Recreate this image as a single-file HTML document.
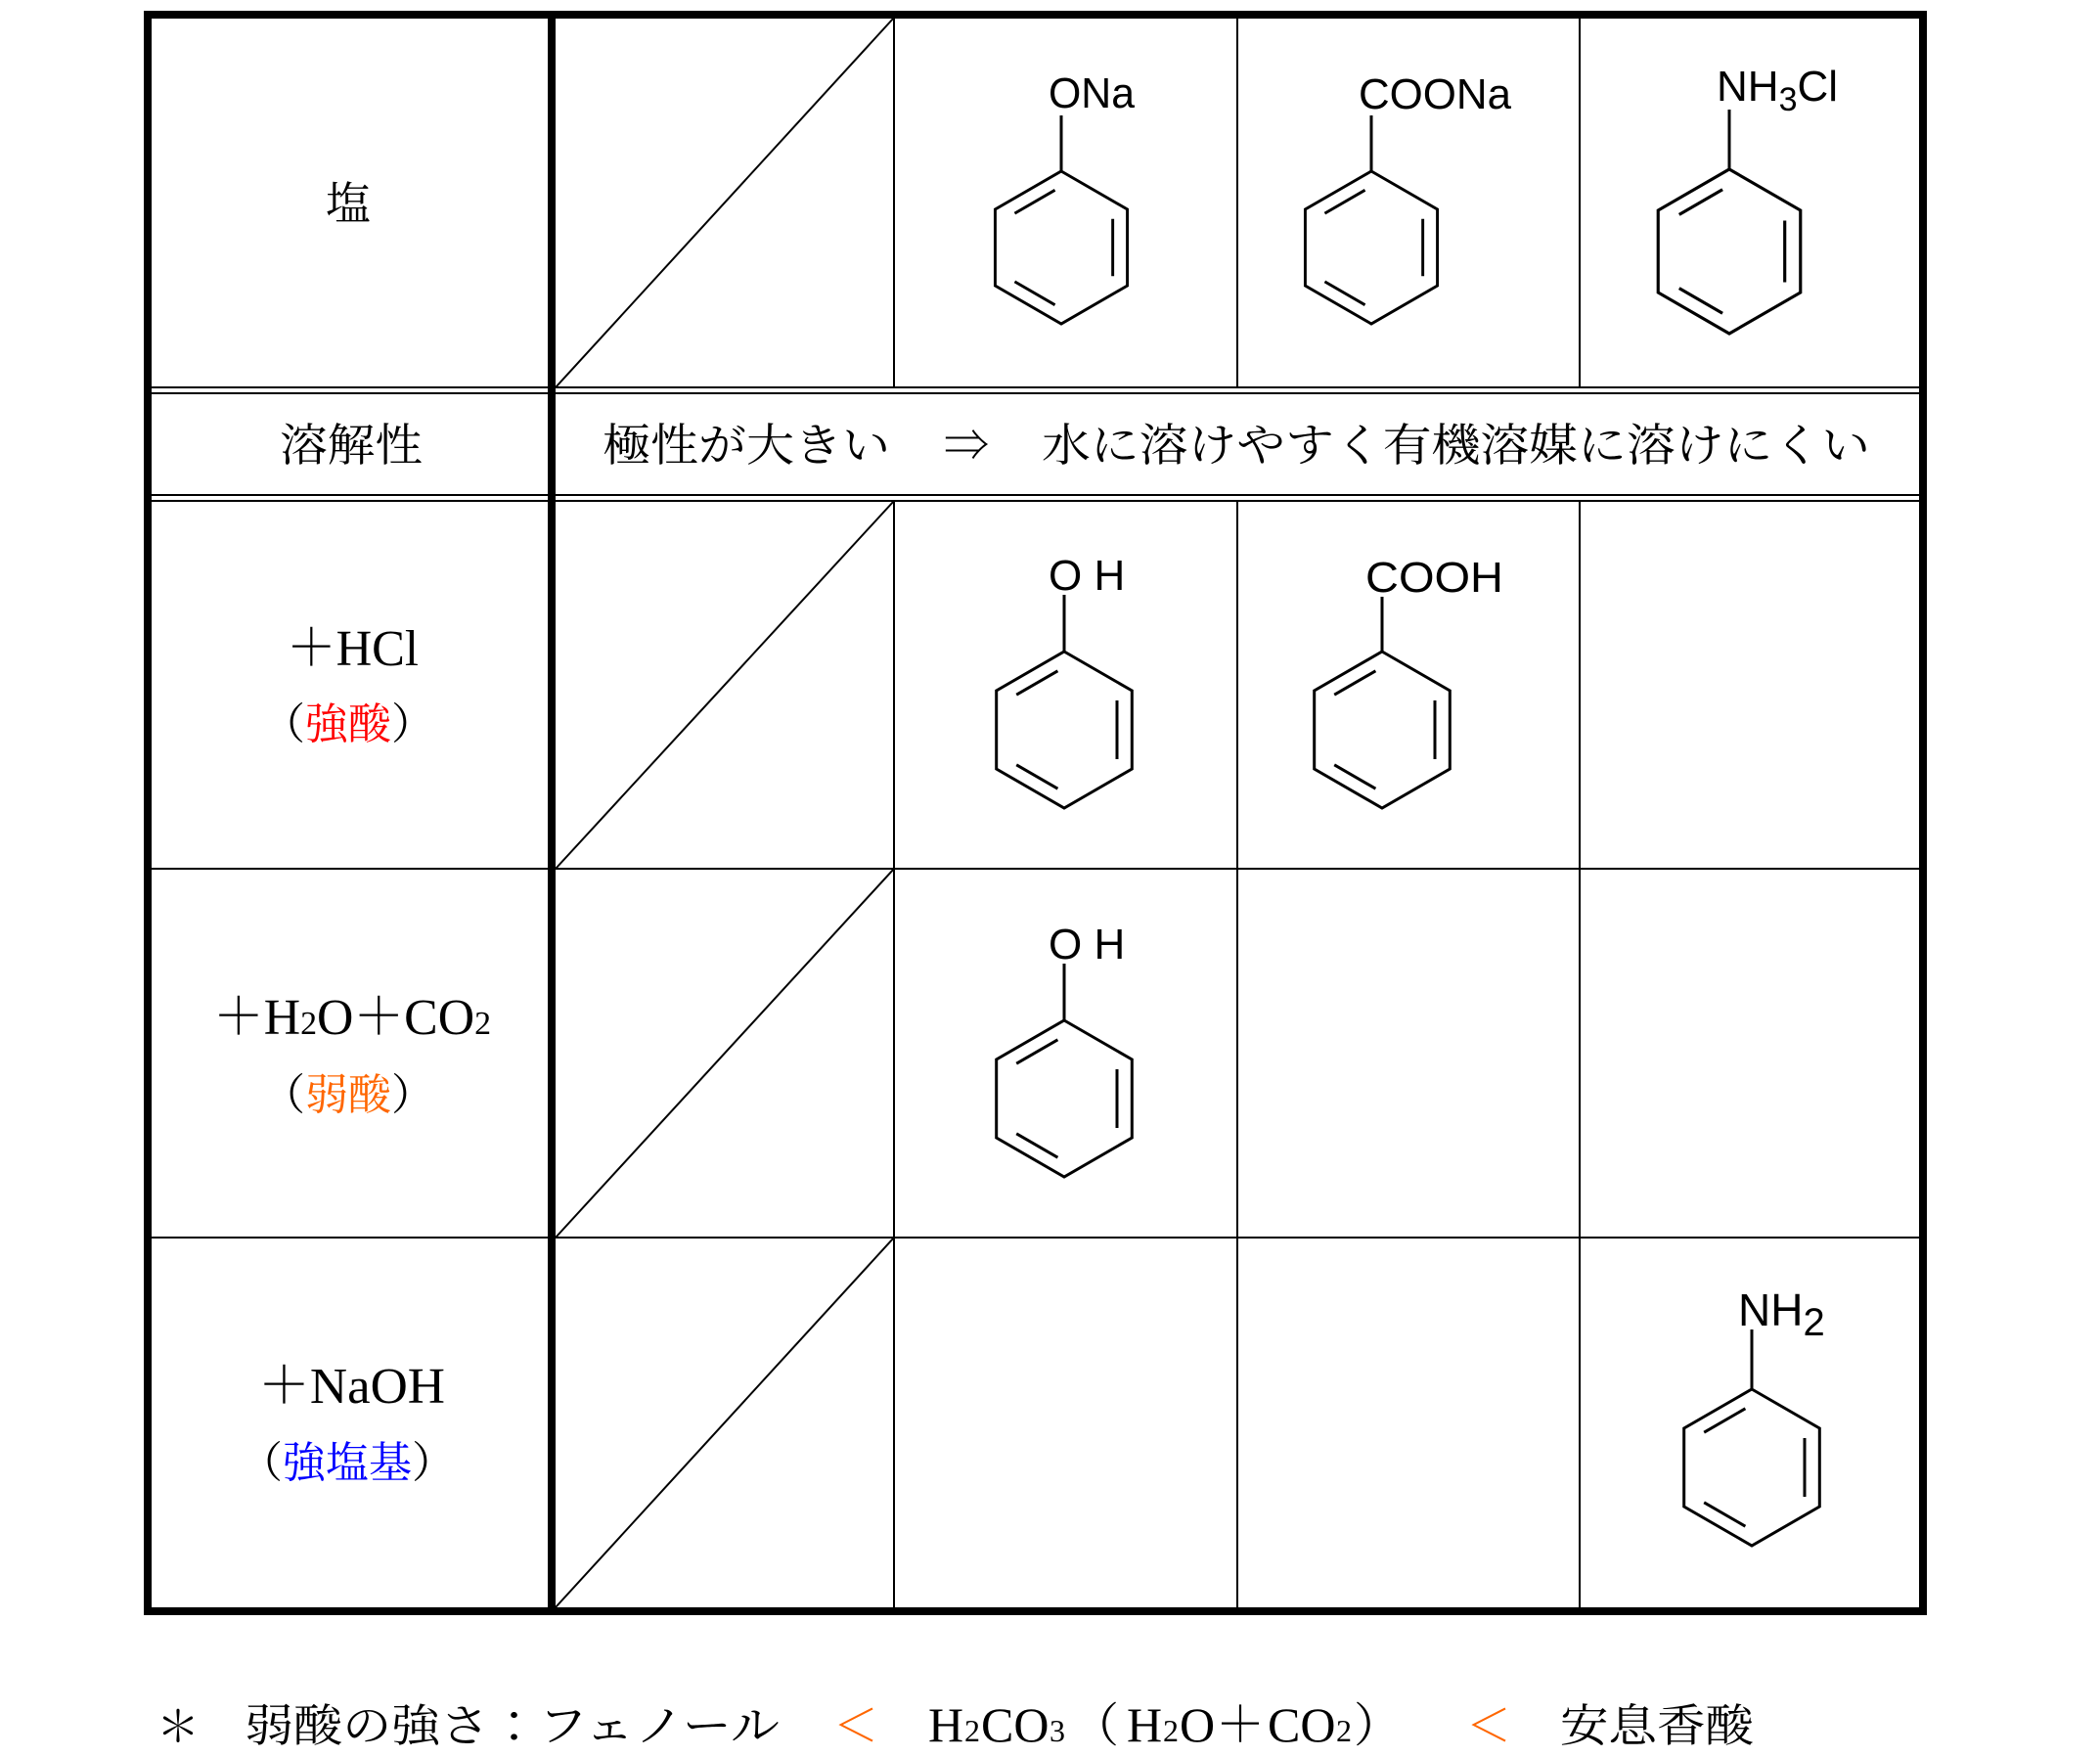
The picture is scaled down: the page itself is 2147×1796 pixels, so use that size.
<!DOCTYPE html>
<html><head><meta charset="utf-8"><style>
html,body{margin:0;padding:0;background:#fff;}
svg{display:block;}
.j{font-family:"Liberation Serif","Noto Serif CJK JP",serif;}
.s{font-family:"Liberation Sans","Noto Sans CJK JP",sans-serif;}
</style></head><body>
<svg width="2147" height="1796" viewBox="0 0 2147 1796" xmlns="http://www.w3.org/2000/svg">
<defs>
<g id="ring" fill="none" stroke="#000" stroke-width="3">
<polygon points="0,-80 69.3,-40 69.3,40 0,80 -69.3,40 -69.3,-40"/>
<line x1="-48.8" y1="-35.8" x2="-6.6" y2="-60.2"/>
<line x1="54" y1="-30" x2="54" y2="30"/>
<line x1="-48.8" y1="35.8" x2="-6.6" y2="60.2"/>
</g>
</defs>
<g stroke="#000" fill="none">
<line x1="914" y1="15" x2="914" y2="397" stroke-width="2"/>
<line x1="1265" y1="15" x2="1265" y2="397" stroke-width="2"/>
<line x1="1615" y1="15" x2="1615" y2="397" stroke-width="2"/>
<line x1="914" y1="511" x2="914" y2="1647" stroke-width="2"/>
<line x1="1265" y1="511" x2="1265" y2="1647" stroke-width="2"/>
<line x1="1615" y1="511" x2="1615" y2="1647" stroke-width="2"/>
<line x1="151" y1="396" x2="1966" y2="396" stroke-width="2"/>
<line x1="151" y1="402" x2="1966" y2="402" stroke-width="2"/>
<line x1="151" y1="506" x2="1966" y2="506" stroke-width="2"/>
<line x1="151" y1="512" x2="1966" y2="512" stroke-width="2"/>
<line x1="151" y1="888" x2="1966" y2="888" stroke-width="2"/>
<line x1="151" y1="1265" x2="1966" y2="1265" stroke-width="2"/>
<line x1="568" y1="396" x2="914" y2="18" stroke-width="2"/>
<line x1="568" y1="888" x2="914" y2="512" stroke-width="2"/>
<line x1="568" y1="1265" x2="914" y2="888" stroke-width="2"/>
<line x1="568" y1="1643" x2="914" y2="1265" stroke-width="2"/>
<line x1="564" y1="15" x2="564" y2="1647" stroke-width="8"/>
<rect x="151" y="15" width="1815" height="1632" stroke-width="8"/>
</g>
<line x1="1085" y1="118" x2="1085" y2="175" stroke="#000" stroke-width="3"/>
<use href="#ring" transform="translate(1085,253) scale(0.975)"/>
<line x1="1402" y1="118" x2="1402" y2="175" stroke="#000" stroke-width="3"/>
<use href="#ring" transform="translate(1402,253) scale(0.975)"/>
<line x1="1768" y1="112" x2="1768" y2="173" stroke="#000" stroke-width="3"/>
<use href="#ring" transform="translate(1768,257) scale(1.05)"/>
<line x1="1088" y1="608" x2="1088" y2="666" stroke="#000" stroke-width="3"/>
<use href="#ring" transform="translate(1088,746)"/>
<line x1="1413" y1="610" x2="1413" y2="666" stroke="#000" stroke-width="3"/>
<use href="#ring" transform="translate(1413,746)"/>
<line x1="1088" y1="985" x2="1088" y2="1043" stroke="#000" stroke-width="3"/>
<use href="#ring" transform="translate(1088,1123)"/>
<line x1="1791" y1="1359" x2="1791" y2="1419" stroke="#000" stroke-width="3"/>
<use href="#ring" transform="translate(1791,1500)"/>
<g class="s" font-size="44" fill="#000">
<text x="1072" y="110" textLength="88" lengthAdjust="spacingAndGlyphs">ONa</text>
<text x="1389" y="111" textLength="156" lengthAdjust="spacingAndGlyphs">COONa</text>
<text x="1755" y="103">NH<tspan font-size="34" dy="10">3</tspan><tspan dy="-10">Cl</tspan></text>
<text x="1072" y="603">O H</text>
<text x="1396" y="605" textLength="141" lengthAdjust="spacingAndGlyphs">COOH</text>
<text x="1072" y="980">O H</text>
<text x="1777" y="1355" font-size="46">NH<tspan font-size="40" dy="10">2</tspan></text>
</g>
<g class="j" fill="#000">
<text x="356" y="224" font-size="46" text-anchor="middle">塩</text>
<text x="286" y="471" font-size="46" textLength="146" lengthAdjust="spacingAndGlyphs">溶解性</text>
<text x="616" y="471" font-size="46" textLength="294" lengthAdjust="spacingAndGlyphs">極性が大きい</text>
<text x="965" y="471" font-size="46">⇒</text>
<text x="1065" y="471" font-size="46" textLength="847" lengthAdjust="spacingAndGlyphs">水に溶けやすく有機溶媒に溶けにくい</text>
<text x="293" y="680" font-size="52" textLength="135" lengthAdjust="spacingAndGlyphs">＋HCl</text>
<text x="268" y="755" font-size="44">（</text>
<text x="312" y="755" font-size="44" fill="#f00">強酸</text>
<text x="400" y="755" font-size="44">）</text>
<text x="218" y="1057" font-size="52" textLength="284" lengthAdjust="spacingAndGlyphs">＋H<tspan font-size="34">2</tspan>O＋CO<tspan font-size="34">2</tspan></text>
<text x="268" y="1134" font-size="44">（</text>
<text x="312" y="1134" font-size="44" fill="#f60">弱酸</text>
<text x="400" y="1134" font-size="44">）</text>
<text x="264" y="1434" font-size="52" textLength="191" lengthAdjust="spacingAndGlyphs">＋NaOH</text>
<text x="245" y="1510" font-size="44">（</text>
<text x="289" y="1510" font-size="44" fill="#00f">強塩基</text>
<text x="421" y="1510" font-size="44">）</text>
<text x="160" y="1780" font-size="44">＊</text>
<text x="250" y="1780" font-size="46" textLength="547" lengthAdjust="spacingAndGlyphs">弱酸の強さ：フェノール</text>
<text x="852" y="1780" font-size="46" fill="#f60">＜</text>
<text x="949" y="1780" font-size="50">H</text>
<text x="986" y="1780" font-size="32">2</text>
<text x="1003" y="1780" font-size="50">CO</text>
<text x="1073" y="1780" font-size="32">3</text>
<text x="1096" y="1780" font-size="48">（</text>
<text x="1152" y="1780" font-size="50">H</text>
<text x="1189" y="1780" font-size="32">2</text>
<text x="1206" y="1780" font-size="50">O</text>
<text x="1243" y="1780" font-size="50">＋</text>
<text x="1296" y="1780" font-size="50">CO</text>
<text x="1366" y="1780" font-size="32">2</text>
<text x="1384" y="1780" font-size="48">）</text>
<text x="1499" y="1780" font-size="46" fill="#f60">＜</text>
<text x="1595" y="1780" font-size="46" textLength="198" lengthAdjust="spacingAndGlyphs">安息香酸</text>
</g>
</svg>
</body></html>
